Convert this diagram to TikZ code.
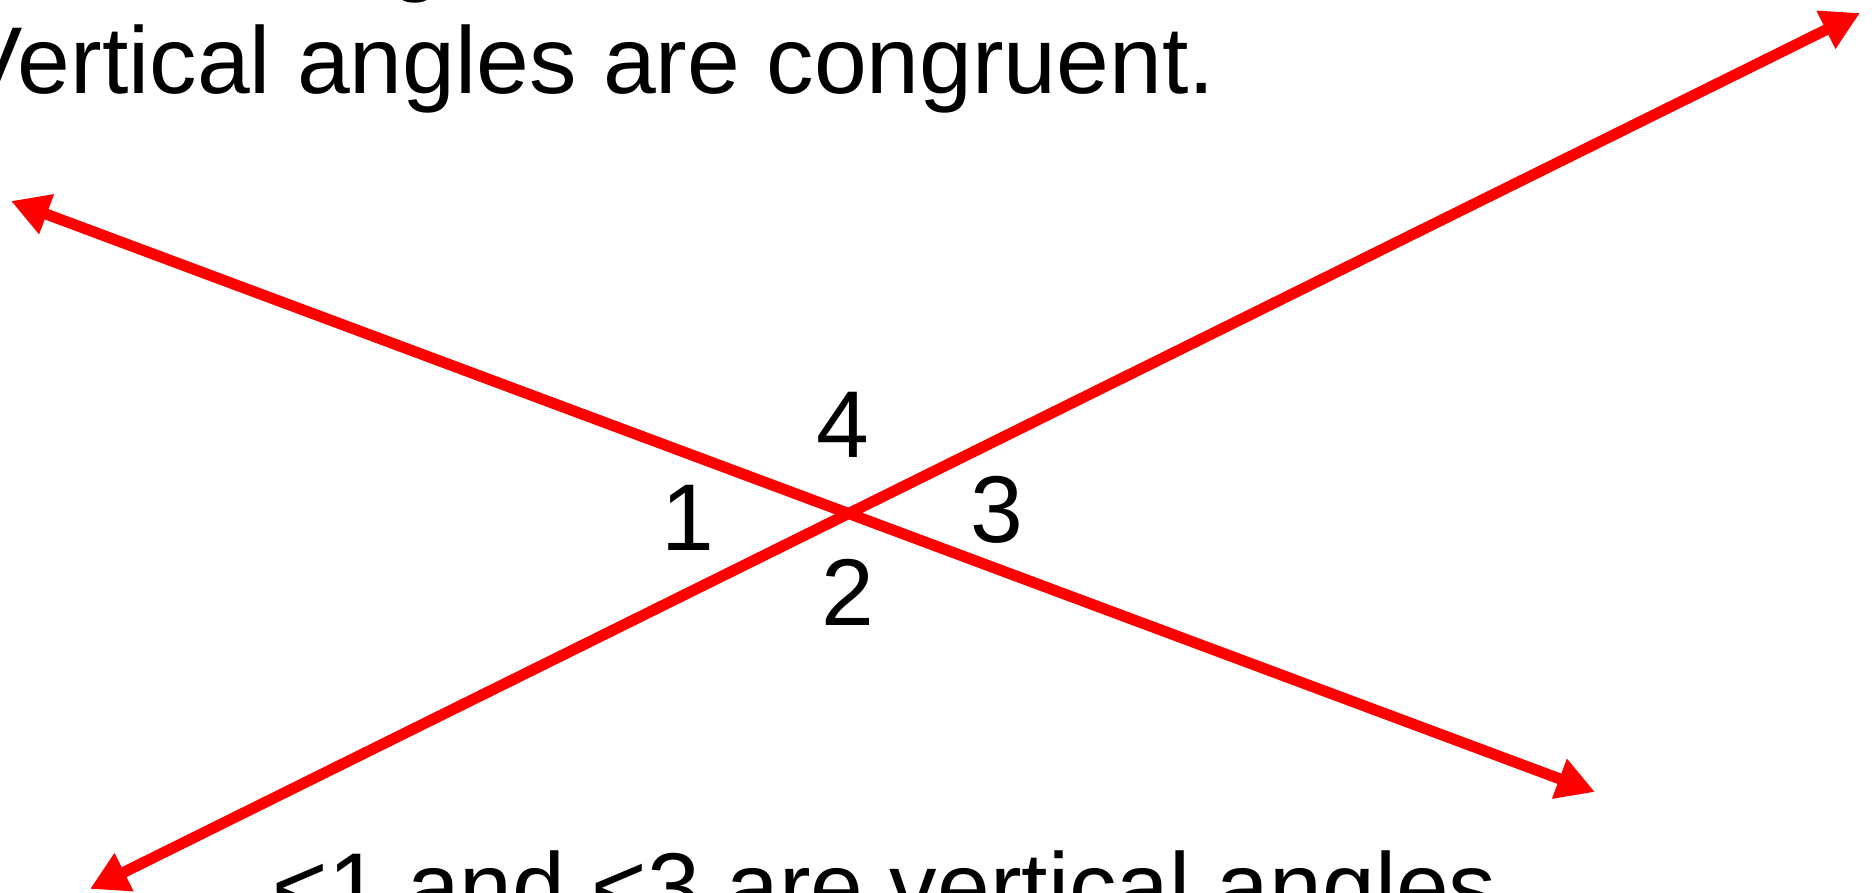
\documentclass[tikz,border=0pt]{standalone}
\usepackage{fontspec}
\setmainfont{Liberation Sans}
\usepackage{tikz}
\usetikzlibrary{arrows.meta,positioning}

\begin{document}
\begin{tikzpicture}[
  font=\fontsize{27}{32}\selectfont,
  ray/.style={red,line width=1.1mm,{Triangle[length=3.8mm,width=4.0mm]}-{Triangle[length=3.8mm,width=4.0mm]}},
  num/.style={inner sep=0pt},
  caption/.style={anchor=base west,inner sep=0pt}
]
  \useasboundingbox (0,0) rectangle (18.72,-8.93);
  \clip (0,0) rectangle (18.72,-8.93);
  \node[anchor=base,inner sep=0pt] (prev) at (4.16,0.16) {g};
  \node[caption] (title) at (-0.41,-0.94) {Vertical angles are congruent.};
  \coordinate (nw) at (0.11,-2.01);
  \coordinate (se) at (15.95,-7.92);
  \coordinate (sw) at (0.90,-8.89);
  \coordinate (ne) at (18.60,-0.13);
  \draw[ray] (nw) -- (se);
  \draw[ray] (sw) -- (ne);
  \node[num] (a4) at (8.43,-4.25) {4};
  \node[num] (a1) at (6.88,-5.18) {1};
  \node[num] (a3) at (9.97,-5.10) {3};
  \node[num] (a2) at (8.48,-5.92) {2};
  \node[caption] (note) at (2.72,-9.20) {<1 and <3 are vertical angles};
\end{tikzpicture}
\end{document}
